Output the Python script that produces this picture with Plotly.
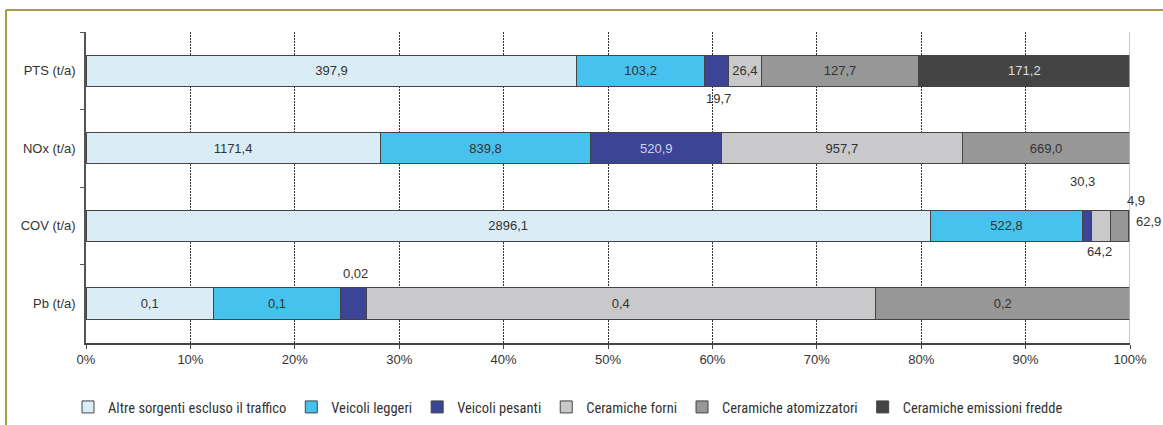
import plotly.graph_objects as go

# Emissioni annue per inquinante e per sorgente (t/a)
inquinanti = ["PTS (t/a)", "NOx (t/a)", "COV (t/a)", "Pb (t/a)"]
sorgenti = [
    "Altre sorgenti escluso il traffico",
    "Veicoli leggeri",
    "Veicoli pesanti",
    "Ceramiche forni",
    "Ceramiche atomizzatori",
    "Ceramiche emissioni fredde",
]
altre_sorgenti = [397.9, 1171.4, 2896.1, 0.1]
veicoli_leggeri = [103.2, 839.8, 522.8, 0.1]
veicoli_pesanti = [19.7, 520.9, 30.3, 0.02]
ceramiche_forni = [26.4, 957.7, 64.2, 0.4]
ceramiche_atomizzatori = [127.7, 669.0, 62.9, 0.2]
ceramiche_fredde = [171.2, 0.0, 4.9, 0.0]

serie = [altre_sorgenti, veicoli_leggeri, veicoli_pesanti,
         ceramiche_forni, ceramiche_atomizzatori, ceramiche_fredde]
colori = ["#DAEDF7", "#47C1EE", "#3B4496", "#C9C9CB", "#979797", "#444444"]
colori_testo = ["#333333", "#333333", "#D0D0F2", "#333333", "#333333", "#DDDDDD"]

FONT = "Liberation Sans, Arial, sans-serif"
FONT_LEGENDA = ("Noto Sans Condensed, Liberation Sans Narrow, Roboto Condensed, "
                "DejaVu Sans Condensed, Roboto, sans-serif")

# segments whose value is written outside the bar: (series, category, dx, dy)
etichette_esterne = [
    (2, 0, 2, -28),
    (2, 2, -5, 44),
    (5, 2, 7, 25),
    (3, 2, -1, -26),
    (4, 2, 29, 4),
    (2, 3, 2, 30),
]
esterne = {(s, c) for s, c, _, _ in etichette_esterne}


def fmt(v):
    if v < 1:
        s = f"{v:.2f}".rstrip("0")
    else:
        s = f"{v:.1f}"
    return s.replace(".", ",")


fig = go.Figure()
for i, (nome, valori) in enumerate(zip(sorgenti, serie)):
    testi = []
    for c, v in enumerate(valori):
        testi.append("" if (i, c) in esterne or v == 0 else fmt(v))
    fig.add_trace(go.Bar(
        name=nome,
        y=inquinanti,
        x=valori,
        orientation="h",
        width=0.4,
        marker=dict(color=colori[i], line=dict(color="#444444", width=1)),
        text=testi,
        textposition="inside",
        insidetextanchor="middle",
        textfont=dict(family=FONT, size=13, color=colori_testo[i]),
        hoverinfo="skip",
    ))

# outside labels positioned at the centre of their segment (percent of row total)
annotazioni = []
for s, c, dx, dy in etichette_esterne:
    totale = sum(serie[k][c] for k in range(len(serie)))
    inizio = sum(serie[k][c] for k in range(s))
    centro = (inizio + serie[s][c] / 2) / totale * 100
    annotazioni.append(dict(
        x=centro, y=inquinanti[c], xref="x", yref="y",
        text=fmt(serie[s][c]), showarrow=False,
        xshift=dx, yshift=dy,
        font=dict(family=FONT, size=13, color="#333333"),
    ))

W, H = 1163, 425
ML, MR, MT, MB = 86, 33, 32, 82
pw, ph = W - ML - MR, H - MT - MB


def px_x(p):
    return (p - ML) / pw


def px_y(p):
    return (H - MB - p) / ph


oro = "#8C7C16"
forme = [
    dict(type="line", xref="paper", yref="paper",
         x0=px_x(6), x1=px_x(W + 5), y0=px_y(10), y1=px_y(10),
         line=dict(color=oro, width=1.5)),
    dict(type="line", xref="paper", yref="paper",
         x0=px_x(6), x1=px_x(6), y0=px_y(10), y1=px_y(H + 5),
         line=dict(color=oro, width=1.5)),
    dict(type="line", xref="x", yref="paper",
         x0=100, x1=100, y0=0, y1=1,
         line=dict(color="#B8B8B8", width=1.5)),
]

fig.update_layout(
    width=W, height=H,
    margin=dict(l=ML, r=MR, t=MT, b=MB, autoexpand=False),
    paper_bgcolor="white", plot_bgcolor="white",
    barmode="stack", barnorm="percent",
    separators=",.",
    font=dict(family=FONT, size=13, color="#333333"),
    xaxis=dict(
        range=[0, 100], dtick=10, ticksuffix="%",
        showgrid=True, gridcolor="#333333", griddash="2px,1px", gridwidth=1,
        zeroline=False,
        showline=True, linecolor="#444444", linewidth=1.5,
        ticks="outside", ticklen=4, tickcolor="#444444",
        tickfont=dict(family=FONT, size=13, color="#333333"),
    ),
    yaxis=dict(
        categoryorder="array", categoryarray=inquinanti,
        autorange="reversed",
        showline=True, linecolor="#555555", linewidth=1.5,
        ticks="outside", ticklen=4, tickcolor="#555555",
        tickson="boundaries", showgrid=False,
        tickfont=dict(family=FONT, size=13, color="#333333"),
        ticklabelstandoff=6,
    ),
    legend=dict(
        orientation="h", x=px_x(68), y=px_y(407), xanchor="left", yanchor="middle",
        font=dict(family=FONT_LEGENDA, size=14.5, color="#333333"),
        itemwidth=30, traceorder="normal",
    ),
    annotations=annotazioni,
    shapes=forme,
)

fig.write_html("out.html")
